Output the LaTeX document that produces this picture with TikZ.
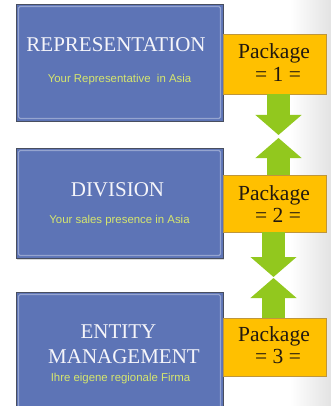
\documentclass[tikz,border=0pt]{standalone}
\usepackage{fontspec}
\setmainfont{Liberation Serif}
\newfontfamily\arialf{Liberation Sans}
\usetikzlibrary{arrows.meta,shadows}
\definecolor{boxblue}{RGB}{93,116,182}
\definecolor{boxedge}{RGB}{72,78,95}
\definecolor{pkgfill}{RGB}{255,192,0}
\definecolor{pkgedge}{RGB}{190,150,60}
\definecolor{pkgtext}{RGB}{35,25,15}
\definecolor{arrgreen}{RGB}{146,200,30}
\definecolor{subcol}{RGB}{214,230,110}
\definecolor{titlecol}{RGB}{245,245,250}
\begin{document}
\begin{tikzpicture}[x=1pt,y=-1pt,
 bluebox/.style={draw=boxedge, line width=.9pt, fill=boxblue, minimum width=207pt, inner sep=0pt,
   drop shadow={shadow xshift=1.2pt, shadow yshift=-1.5pt, opacity=.3}},
 bevel/.style={draw=white, draw opacity=.35, line width=1.2pt, rounded corners=1.5pt},
 pkg/.style={draw=pkgedge, line width=.6pt, fill=pkgfill, minimum width=103pt, inner sep=0pt},
 pkgtxt/.style={anchor=base, inner sep=0pt, text=pkgtext, font=\fontsize{21.5}{22}\selectfont},
 title/.style={anchor=base, inner sep=0pt, text=titlecol, font=\fontsize{21}{21}\selectfont},
 sub/.style={anchor=base, inner sep=0pt, text=subcol, font=\arialf\fontsize{11.4}{12}\selectfont},
 garrow/.style={draw=arrgreen, line width=23pt, -{Triangle[width=45pt 0, length=20pt 0]}}]
\fill[white] (0,0) rectangle (331,406);
\shade[left color=white, right color=black!11] (290,0) rectangle (331,406);
\useasboundingbox (0,0) rectangle (331,406);

% blue boxes
\node[bluebox, minimum height=117pt] (b1) at (119.5,62.5) {};
\node[bluebox, minimum height=110pt] (b2) at (119.5,203) {};
\node[bluebox, minimum height=120pt] (b3) at (119.5,352) {};
\foreach \b in {b1,b2,b3}
  \draw[bevel] ([shift={(3pt,-3pt)}]\b.north west) rectangle ([shift={(-3pt,3pt)}]\b.south east);

\node[title] (t1) at (116,51.7) {REPRESENTATION};
\node[sub] (s1) at (119.5,83) {Your Representative\ \ in Asia};
\node[title] (t2) at (117.5,196.5) {DIVISION};
\node[sub] (s2) at (119.5,223) {Your sales presence in Asia};
\node[title] (t3a) at (118.5,338.3) {ENTITY};
\node[title] (t3b) at (124,363.3) {MANAGEMENT};
\node[sub] (s3) at (120.5,381) {Ihre eigene regionale Firma};

% packages
\node[pkg, minimum height=60pt] (p1) at (274.5,64) {};
\node[pkg, minimum height=57pt] (p2) at (274.5,203.5) {};
\node[pkg, minimum height=58pt] (p3) at (274.5,347) {};
\node[pkgtxt] (p1a) at (274,59) {Package};
\node[pkgtxt] (p1b) at (278,81.3) {= 1 =};
\node[pkgtxt] (p2a) at (274,200) {Package};
\node[pkgtxt] (p2b) at (278,222.5) {= 2 =};
\node[pkgtxt] (p3a) at (274,341) {Package};
\node[pkgtxt] (p3b) at (278,363.5) {= 3 =};

% arrows
\coordinate (a1) at (278.5,135);
\coordinate (a2) at (278.5,138);
\coordinate (a3) at (273.5,277);
\coordinate (a4) at (273.5,278);
\draw[garrow] (a1 |- p1.south) -- (a1);
\draw[garrow] (a2 |- p2.north) -- (a2);
\draw[garrow] (a3 |- p2.south) -- (a3);
\draw[garrow] (a4 |- p3.north) -- (a4);
\end{tikzpicture}
\end{document}
